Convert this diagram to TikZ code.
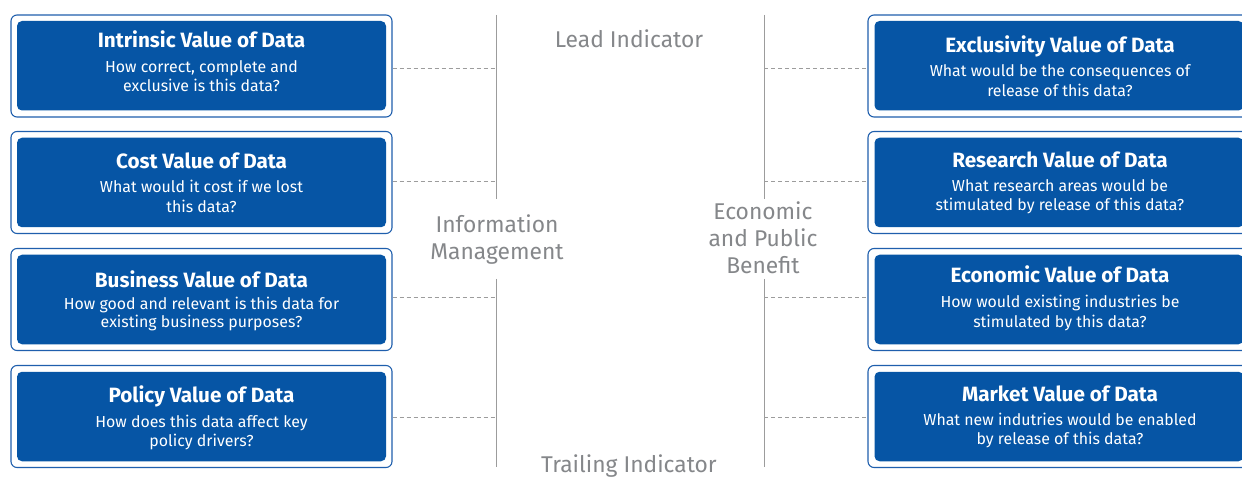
\documentclass[tikz,border=0pt]{standalone}
\usepackage{fontspec}
\setmainfont{Fira Sans}
\definecolor{boxblue}{HTML}{0655A5}
\definecolor{edgeblue}{HTML}{1F5FAD}
\definecolor{labelgrey}{HTML}{85878A}
\definecolor{linegrey}{HTML}{9C9C9C}
\begin{document}
\begin{tikzpicture}[x=1pt,y=-1pt,
  outerbox/.style={draw=edgeblue,line width=1.1pt,fill=white,rounded corners=6pt,minimum width=381pt,minimum height=102pt,inner sep=0pt},
  innerbox/.style={fill=boxblue,rounded corners=5pt,minimum width=369pt,minimum height=89.5pt,inner sep=0pt},
  titletext/.style={anchor=base,inner sep=0pt,text=white,font=\fontsize{20.7}{23}\selectfont\bfseries},
  bodytext/.style={anchor=base,inner sep=0pt,text=white,font=\fontsize{15.9}{18}\selectfont},
  sidelabel/.style={anchor=base,inner sep=0pt,text=labelgrey,font=\fontsize{22.8}{26}\selectfont},
  axisline/.style={draw=linegrey,line width=1pt},
  link/.style={draw=linegrey,line width=0.8pt,dash pattern=on 4pt off 3pt}]
\clip (0,0) rectangle (1242,478);
\fill[white] (0,0) rectangle (1242,478);

% vertical axes
\coordinate (la1) at (496,15);  \coordinate (la2) at (496,199);
\coordinate (la3) at (496,279); \coordinate (la4) at (496,467);
\coordinate (ra1) at (764,15);  \coordinate (ra2) at (764,199);
\coordinate (ra3) at (764,279); \coordinate (ra4) at (764,467);
\draw[axisline] (la1) -- (la2);
\draw[axisline] (la3) -- (la4);
\draw[axisline] (ra1) -- (ra2);
\draw[axisline] (ra3) -- (ra4);

% left boxes
\node[outerbox] (lo1) at (201.5,66) {};
\node[innerbox] (li1) at (201.5,65.75) {};
\node[outerbox] (lo2) at (201.5,182.5) {};
\node[innerbox] (li2) at (201.5,182.5) {};
\node[outerbox] (lo3) at (201.5,299.5) {};
\node[innerbox] (li3) at (201.5,299.5) {};
\node[outerbox] (lo4) at (201.5,416.5) {};
\node[innerbox] (li4) at (201.5,416.5) {};

% right boxes
\node[outerbox] (ro1) at (1058.5,66) {};
\node[innerbox] (ri1) at (1059,65.75) {};
\node[outerbox] (ro2) at (1058.5,182.5) {};
\node[innerbox] (ri2) at (1059,182.5) {};
\node[outerbox] (ro3) at (1058.5,299.5) {};
\node[innerbox] (ri3) at (1059,299.5) {};
\node[outerbox] (ro4) at (1058.5,416.5) {};
\node[innerbox] (ri4) at (1059,416.5) {};

% connectors
\coordinate (lc1) at (496,68);  \coordinate (lc2) at (496,181);
\coordinate (lc3) at (496,297); \coordinate (lc4) at (496,417);
\coordinate (rc1) at (764,68);  \coordinate (rc2) at (764,181);
\coordinate (rc3) at (764,297); \coordinate (rc4) at (764,417);
\draw[link] (lo1.east |- lc1) -- (lc1);
\draw[link] (lo2.east |- lc2) -- (lc2);
\draw[link] (lo3.east |- lc3) -- (lc3);
\draw[link] (lo4.east |- lc4) -- (lc4);
\draw[link] (rc1) -- (ro1.west |- rc1);
\draw[link] (rc2) -- (ro2.west |- rc2);
\draw[link] (rc3) -- (ro3.west |- rc3);
\draw[link] (rc4) -- (ro4.west |- rc4);

% left texts
\node[titletext] (lt1) at (201.5,48) {Intrinsic Value of Data};
\node[bodytext] (lb1a) at (201.5,73) {How correct, complete and};
\node[bodytext] (lb1b) at (201.5,92) {exclusive is this data?};
\node[titletext] (lt2) at (201.5,169) {Cost Value of Data};
\node[bodytext] (lb2a) at (201.5,193) {What would it cost if we lost};
\node[bodytext] (lb2b) at (201.5,213) {this data?};
\node[titletext] (lt3) at (201.5,288) {Business Value of Data};
\node[bodytext] (lb3a) at (201.5,309) {How good and relevant is this data for};
\node[bodytext] (lb3b) at (201.5,327) {existing business purposes?};
\node[titletext] (lt4) at (201.5,402) {Policy Value of Data};
\node[bodytext] (lb4a) at (201.5,427) {How does this data affect key};
\node[bodytext] (lb4b) at (201.5,446) {policy drivers?};

% right texts
\node[titletext] (rt1) at (1060,53) {Exclusivity Value of Data};
\node[bodytext] (rb1a) at (1060,77) {What would be the consequences of};
\node[bodytext] (rb1b) at (1060,97) {release of this data?};
\node[titletext] (rt2) at (1060,168) {Research Value of Data};
\node[bodytext] (rb2a) at (1060,192) {What research areas would be};
\node[bodytext] (rb2b) at (1060,211) {stimulated by release of this data?};
\node[titletext] (rt3) at (1060,283) {Economic Value of Data};
\node[bodytext] (rb3a) at (1060,308) {How would existing industries be};
\node[bodytext] (rb3b) at (1060,327) {stimulated by this data?};
\node[titletext] (rt4) at (1060,401) {Market Value of Data};
\node[bodytext] (rb4a) at (1060,425) {What new indutries would be enabled};
\node[bodytext] (rb4b) at (1060,444) {by release of this data?};

% side labels
\node[sidelabel] (lead) at (629,48) {Lead Indicator};
\node[sidelabel] (trail) at (629,472) {Trailing Indicator};
\node[sidelabel] (im1) at (497,233) {Information};
\node[sidelabel] (im2) at (497,260) {Management};
\node[sidelabel] (ep1) at (763,220) {Economic};
\node[sidelabel] (ep2) at (763,247) {and Public};
\node[sidelabel] (ep3) at (763,274) {Benefit};
\end{tikzpicture}
\end{document}
